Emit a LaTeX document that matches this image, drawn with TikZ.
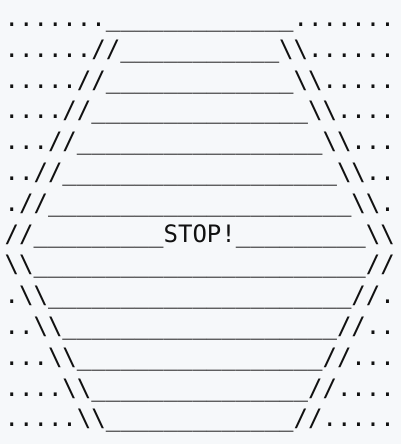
\documentclass[tikz,border=0pt]{standalone}
\usepackage{fontspec}
\setmonofont{DejaVu Sans Mono}
\usepackage{xcolor}
\usepackage{tikz}
\definecolor{paper}{HTML}{F6F8FA}
\definecolor{ink}{HTML}{111111}
\newcommand\rep[2]{\foreach\n in {1,...,#1}{#2}}
\newcommand\bksl{\textbackslash}

\begin{document}
\begin{tikzpicture}[x=1pt,y=1pt,
                    row/.style={anchor=base west,inner sep=0pt,text=ink,
                      font=\ttfamily\fontsize{24}{30.8}\selectfont}]

  \fill[paper] (0,0) rectangle (401,-444);
  \useasboundingbox (0,0) rectangle (401,-444);

  % upper half
  \node[row] (r1)  at (4.5,-26.4)  {\rep{7}{.}\rep{13}{\_}\rep{7}{.}};
  \node[row] (r2)  at (4.5,-57.2)  {\rep{6}{.}//\rep{11}{\_}\bksl\bksl\rep{6}{.}};
  \node[row] (r3)  at (4.5,-88.0)  {\rep{5}{.}//\rep{13}{\_}\bksl\bksl\rep{5}{.}};
  \node[row] (r4)  at (4.5,-118.8) {\rep{4}{.}//\rep{15}{\_}\bksl\bksl\rep{4}{.}};
  \node[row] (r5)  at (4.5,-149.6) {\rep{3}{.}//\rep{17}{\_}\bksl\bksl\rep{3}{.}};
  \node[row] (r6)  at (4.5,-180.4) {\rep{2}{.}//\rep{19}{\_}\bksl\bksl\rep{2}{.}};
  \node[row] (r7)  at (4.5,-211.2) {.//\rep{21}{\_}\bksl\bksl.};
  \node[row] (r8)  at (4.5,-242.0) {//\rep{9}{\_}STOP!\rep{9}{\_}\bksl\bksl};
  % lower half
  \node[row] (r9)  at (4.5,-272.8) {\bksl\bksl\rep{23}{\_}//};
  \node[row] (r10) at (4.5,-303.6) {.\bksl\bksl\rep{21}{\_}//.};
  \node[row] (r11) at (4.5,-334.4) {\rep{2}{.}\bksl\bksl\rep{19}{\_}//\rep{2}{.}};
  \node[row] (r12) at (4.5,-365.2) {\rep{3}{.}\bksl\bksl\rep{17}{\_}//\rep{3}{.}};
  \node[row] (r13) at (4.5,-396.0) {\rep{4}{.}\bksl\bksl\rep{15}{\_}//\rep{4}{.}};
  \node[row] (r14) at (4.5,-426.8) {\rep{5}{.}\bksl\bksl\rep{13}{\_}//\rep{5}{.}};
\end{tikzpicture}
\end{document}
